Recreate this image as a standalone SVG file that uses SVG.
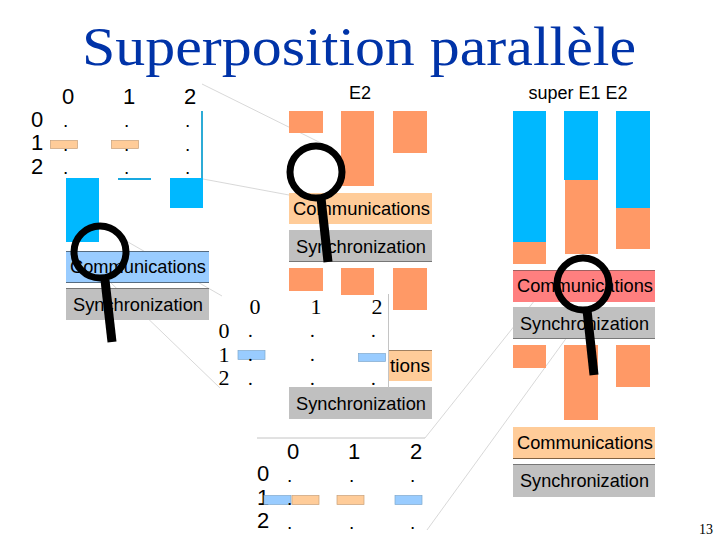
<svg xmlns="http://www.w3.org/2000/svg" width="720" height="540" viewBox="0 0 720 540">
<style>
.s{font-family:"Liberation Sans",Arial,sans-serif;fill:#000}
.f{font-family:"Liberation Serif","Times New Roman",serif;fill:#000}
.n{font-size:22px;text-anchor:middle}
.d{font-size:19px}
.l{font-size:19px}
.o{fill:#ff9966}
.b{fill:#00b8ff}
.cb{fill:#99ccff}
.co{fill:#ffcc99}
.cr{fill:#ff7f7f}
.g{fill:#c0c0c0}
.bo{fill:#ffcc99;stroke:#c8a078;stroke-width:.7}
.bb{fill:#99ccff;stroke:#7fa8cc;stroke-width:.7}
.c{fill:none;stroke:#bdbdbd;stroke-width:.6}
.m{fill:none;stroke:#000}
</style>
<rect width="720" height="540" fill="#fff"/>
<text id="title" x="82" y="65" font-family="'Liberation Serif','Times New Roman',serif" font-size="54" fill="#0033a8" textLength="554" lengthAdjust="spacingAndGlyphs">Superposition parallèle</text>
<g id="connectors">
<line class="c" x1="202" y1="84" x2="325" y2="145"/>
<line class="c" x1="203" y1="179" x2="289" y2="195"/>
<line class="c" x1="128" y1="242" x2="222" y2="296"/>
<line class="c" x1="110" y1="282" x2="220" y2="388"/>
<line x1="257" y1="438" x2="425" y2="438" stroke="#c4c4c4" stroke-width="1"/>
<line class="c" x1="425" y1="438" x2="543" y2="290"/>
<line class="c" x1="427" y1="530" x2="570" y2="333"/>
</g>
<g id="e1">
<g class="s n"><text x="68" y="104">0</text><text x="129" y="104">1</text><text x="190" y="104">2</text>
<text x="37" y="127">0</text><text x="37" y="150">1</text><text x="37" y="174">2</text></g>
<rect class="bo" x="50.500" y="140.500" width="27" height="8"/><rect class="bo" x="111.500" y="140.500" width="27" height="8"/>
<g class="s d"><text x="63" y="127">.</text><text x="124" y="127">.</text><text x="185" y="127">.</text>
<text x="63" y="151">.</text><text x="124" y="151">.</text><text x="185" y="151">.</text>
<text x="63" y="174">.</text><text x="124" y="174">.</text><text x="185" y="174">.</text></g>
<rect class="b" x="66" y="178" width="33" height="64"/>
<rect x="118" y="178" width="33" height="2" fill="#19a8e0"/>
<rect class="b" x="170" y="178" width="33" height="30"/>
<rect x="201" y="111" width="2" height="67" fill="#2cabd6"/>
</g>
<g id="e1-comm"><rect class="cb" x="66" y="251" width="143" height="32"/><path d="M66 251.500H209M66 282.500H209" stroke="#556b80" fill="none"/><text class="s l" x="70" y="273" textLength="136" lengthAdjust="spacingAndGlyphs">Communications</text></g>
<g id="e1-sync"><rect class="g" x="66" y="288" width="143" height="32"/><rect x="66" y="288" width="143" height="1" fill="#777"/><text class="s l" x="73" y="311" textLength="130" lengthAdjust="spacingAndGlyphs">Synchronization</text></g>
<g id="loupe1"><circle class="m" cx="100" cy="252" r="26" stroke-width="7"/><line class="m" x1="105" y1="280" x2="112" y2="342" stroke-width="9"/></g>
<g id="e2">
<text class="s n" x="360" y="99" style="font-size:18px">E2</text>
<rect class="o" x="289" y="111" width="34" height="22"/><rect class="o" x="341" y="111" width="33" height="75"/><rect class="o" x="393" y="111" width="34" height="42"/>
<rect class="co" x="289" y="193" width="143" height="31"/><text class="s l" x="293" y="215" textLength="137" lengthAdjust="spacingAndGlyphs">Communications</text>
<rect class="g" x="289" y="230" width="143" height="32"/><rect x="289" y="261" width="143" height="1" fill="#777"/><text class="s l" x="296" y="253" textLength="130" lengthAdjust="spacingAndGlyphs">Synchronization</text>
<rect class="o" x="289" y="268" width="34" height="23"/><rect class="o" x="341" y="268" width="33" height="27"/><rect class="o" x="393" y="268" width="34" height="42"/>
<rect class="co" x="388" y="350" width="44" height="31"/><rect x="388" y="350" width="44" height="1" fill="#a08060"/><text class="s l" x="390" y="372" textLength="40" lengthAdjust="spacingAndGlyphs">tions</text>
<rect class="g" x="289" y="387" width="143" height="32"/><text class="s l" x="296" y="410" textLength="130" lengthAdjust="spacingAndGlyphs">Synchronization</text>
</g>
<g id="loupe2"><circle class="m" cx="316" cy="172" r="26" stroke-width="7"/><line class="m" x1="321" y1="198" x2="328" y2="262" stroke-width="9"/></g>
<g id="panel-e1-prime">
<line x1="388.500" y1="294" x2="388.500" y2="388" stroke="#c4c4c4"/>
<g class="f n"><text x="255" y="314">0</text><text x="316" y="314">1</text><text x="377" y="314">2</text>
<text x="224" y="338">0</text><text x="224" y="362">1</text><text x="224" y="385">2</text></g>
<rect class="bb" x="238" y="350.500" width="27" height="9"/><rect class="bb" x="358.500" y="353.500" width="27" height="8"/>
<g class="f d"><text x="248" y="337">.</text><text x="310" y="337">.</text><text x="371" y="337">.</text>
<text x="248" y="361">.</text><text x="310" y="361">.</text>
<text x="248" y="385">.</text><text x="310" y="385">.</text><text x="371" y="385">.</text></g>
</g>
<g id="panel-e2-prime">
<g class="s n"><text x="293" y="459">0</text><text x="354" y="459">1</text><text x="416" y="459">2</text>
<text x="263" y="481">0</text><text x="263" y="505">1</text><text x="263" y="528">2</text></g>
<rect class="bb" x="264" y="495.500" width="27" height="9"/><rect class="bo" x="292" y="495.500" width="27" height="9"/><rect class="bo" x="337" y="495.500" width="27" height="9"/><rect class="bb" x="395" y="495.500" width="27" height="9"/>
<g class="s d"><text x="287" y="482">.</text><text x="349" y="482">.</text><text x="410" y="482">.</text>
<text x="287" y="505">.</text>
<text x="287" y="529">.</text><text x="349" y="529">.</text><text x="410" y="529">.</text></g>
</g>
<g id="super">
<text class="s n" x="578" y="99" style="font-size:18px">super E1 E2</text>
<rect class="o" x="513" y="242" width="33" height="22"/><rect class="b" x="513" y="111" width="33" height="131"/>
<rect class="o" x="565" y="180" width="33" height="74"/><rect class="b" x="564" y="111" width="34" height="69"/>
<rect class="o" x="616" y="208" width="34" height="41"/><rect class="b" x="616" y="111" width="34" height="97"/>
<rect class="cr" x="513" y="270" width="142" height="32"/><rect x="513" y="270" width="142" height="1" fill="#a06060"/><text class="s l" x="517" y="292" textLength="136" lengthAdjust="spacingAndGlyphs">Communications</text>
<rect class="g" x="513" y="307" width="142" height="32"/><rect x="513" y="338" width="142" height="1" fill="#777"/><text class="s l" x="520" y="330" textLength="129" lengthAdjust="spacingAndGlyphs">Synchronization</text>
<rect class="o" x="513" y="345" width="33" height="23"/><rect class="o" x="564" y="345" width="34" height="75"/><rect class="o" x="616" y="345" width="34" height="42"/>
<rect class="co" x="513" y="427" width="142" height="31"/><rect x="513" y="458" width="142" height="1" fill="#806040"/><text class="s l" x="517" y="449" textLength="136" lengthAdjust="spacingAndGlyphs">Communications</text>
<rect class="g" x="513" y="464" width="142" height="33"/><rect x="513" y="464" width="142" height="1" fill="#777"/><text class="s l" x="520" y="487" textLength="129" lengthAdjust="spacingAndGlyphs">Synchronization</text>
</g>
<g id="loupe3"><circle class="m" cx="583" cy="284" r="26" stroke-width="7"/><line class="m" x1="587" y1="310" x2="594" y2="375" stroke-width="9"/></g>
<text id="page" x="699" y="534" font-family="'Liberation Serif','Times New Roman',serif" font-size="14" fill="#000">13</text>
</svg>
